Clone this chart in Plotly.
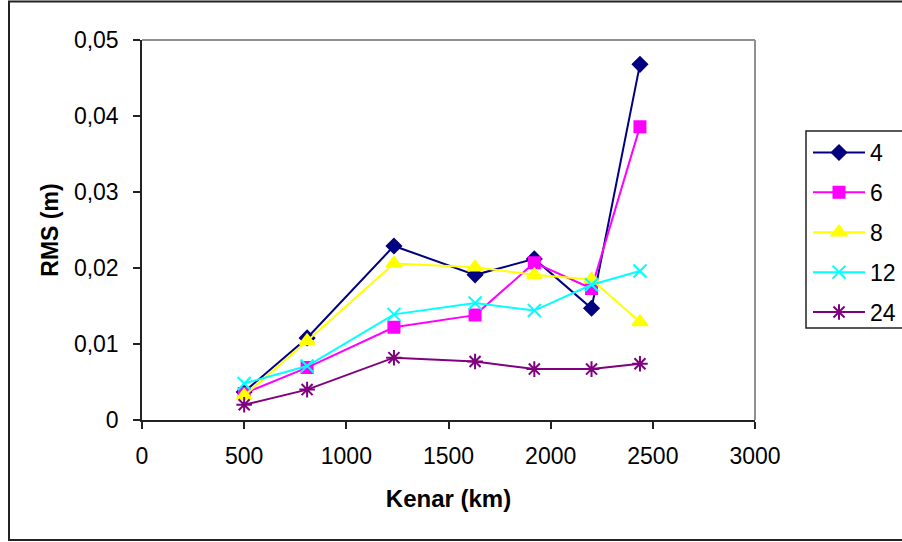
import plotly.graph_objects as go

kenar = [500, 808, 1233, 1630, 1920, 2200, 2437]
series_names = ["4", "6", "8", "12", "24"]
rms_4 = [0.0037, 0.0108, 0.0229, 0.0191, 0.0212, 0.0147, 0.0468]
rms_6 = [0.0035, 0.0069, 0.0122, 0.0138, 0.0207, 0.0173, 0.0386]
rms_8 = [0.0032, 0.0104, 0.0206, 0.0201, 0.0191, 0.0185, 0.0129]
rms_12 = [0.0048, 0.0071, 0.0139, 0.0154, 0.0144, 0.0178, 0.0196]
rms_24 = [0.0020, 0.0040, 0.0082, 0.0077, 0.0067, 0.0067, 0.0074]
x_ticks = [0, 500, 1000, 1500, 2000, 2500, 3000]
y_ticks = [0, 0.01, 0.02, 0.03, 0.04, 0.05]

values = [rms_4, rms_6, rms_8, rms_12, rms_24]
colors = ["#000080", "#FF00FF", "#FFFF00", "#00FFFF", "#800080"]
symbols = ["diamond", "square", "triangle-up", "x-thin-open", "asterisk-open"]
sizes = [11, 11, 13, 13, 13]

W, H = 902, 542
L, R, T, B = 142, 755, 40, 420

fig = go.Figure()
for name, vals, c, s, sz in zip(series_names, values, colors, symbols, sizes):
    fig.add_trace(go.Scatter(
        x=kenar, y=vals, name=name, mode="lines+markers",
        legendgroup=name,
        line=dict(color=c, width=2),
        marker=dict(symbol=s, size=sz, color=c, line=dict(color=c, width=2)),
    ))

def px_x(p):
    return (p - L) / (R - L)

def px_y(p):
    return (B - p) / (B - T)

font = "Liberation Sans, Arial, sans-serif"
fig.update_layout(
    width=W, height=H,
    margin=dict(l=L, r=W - R, t=T, b=H - B, autoexpand=False),
    paper_bgcolor="white", plot_bgcolor="white",
    separators=",.",
    font=dict(family=font, size=23, color="black"),
    showlegend=True,
    legend=dict(
        x=px_x(808), y=px_y(131), xanchor="left", yanchor="top",
        bgcolor="rgba(0,0,0,0)", borderwidth=0,
        font=dict(family=font, size=23, color="black"),
        tracegroupgap=7, itemwidth=52,
    ),
    xaxis=dict(
        range=[0, 3000], tickvals=x_ticks, showgrid=False, zeroline=False,
        showline=True, linecolor="#222", linewidth=1.5,
        ticks="outside", ticklen=7, tickcolor="#222", tickwidth=1.5,
        ticklabelstandoff=8,
        title=dict(text="<b>Kenar (km)</b>", font=dict(family=font, size=24), standoff=22),
    ),
    yaxis=dict(
        range=[0, 0.05], tickvals=y_ticks, showgrid=False, zeroline=False,
        showline=True, linecolor="#222", linewidth=1.5,
        ticks="outside", ticklen=7, tickcolor="#222", tickwidth=1.5,
        ticklabelstandoff=10,
        title=dict(text="<b>RMS (m)</b>", font=dict(family=font, size=23), standoff=9),
    ),
    shapes=[
        dict(type="line", xref="paper", yref="paper", x0=0, x1=1, y0=1, y1=1,
             line=dict(color="#909090", width=2)),
        dict(type="line", xref="paper", yref="paper", x0=1, x1=1, y0=0, y1=1,
             line=dict(color="#909090", width=2)),
        dict(type="rect", xref="paper", yref="paper",
             x0=px_x(806), x1=px_x(915), y0=px_y(328), y1=px_y(131),
             line=dict(color="#222", width=1.5)),
        dict(type="rect", xref="paper", yref="paper",
             x0=px_x(9), x1=px_x(920), y0=px_y(540), y1=px_y(1.5),
             line=dict(color="#222", width=2)),
    ],
)

fig.write_html("out.html")
